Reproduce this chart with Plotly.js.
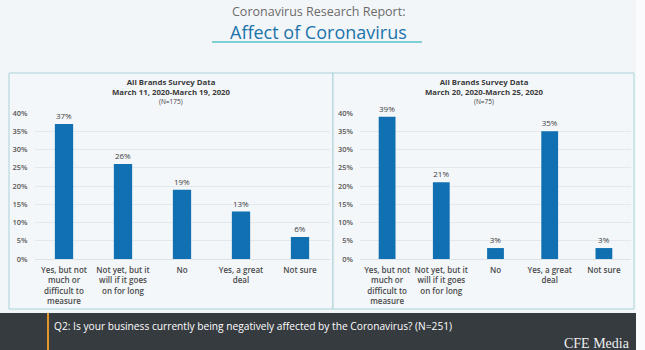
<!DOCTYPE html>
<html>
<head>
<meta charset="utf-8">
<script src="https://cdn.plot.ly/plotly-3.0.1.min.js"></script>
<style>
html,body{margin:0;padding:0;background:#f3f6f9;}
#chart{width:645px;height:350px;}
</style>
</head>
<body>
<div id="chart"></div>
<script>
const categories = [
  "Yes, but not<br>much or<br>difficult to<br>measure",
  "Not yet, but it<br>will if it goes<br>on for long",
  "No",
  "Yes, a great<br>deal",
  "Not sure"
];
const valuesMar11to19 = [37, 26, 19, 13, 6];
const valuesMar20to25 = [39, 21, 3, 35, 3];
const yTickVals = [0, 5, 10, 15, 20, 25, 30, 35, 40];
const yTickText = ["0%", "5%", "10%", "15%", "20%", "25%", "30%", "35%", "40%"];
const panelTitles = [
  "All Brands Survey Data<br>March 11, 2020-March 19, 2020",
  "All Brands Survey Data<br>March 20, 2020-March 25, 2020"
];
const panelN = ["(N=175)", "(N=75)"];
const mainTitle = "Coronavirus Research Report:";
const subTitle = "Affect of Coronavirus";
const footerText = "Q2: Is your business currently being negatively affected by the Coronavirus? (N=251)";
const brand = "CFE Media";

const W = 645, H = 350;
const px = x => x / W;
const py = y => 1 - y / H;

const FONT = "Open Sans, Noto Sans, sans-serif";
const barColor = "#1170b2";

function barTrace(vals, xa, ya) {
  return {
    type: "bar",
    x: categories,
    y: vals,
    xaxis: xa,
    yaxis: ya,
    width: 0.31,
    marker: {color: barColor},
    text: vals.map(v => v + "%"),
    textposition: "outside",
    textfont: {family: FONT, size: 8, color: "#404040"},
    cliponaxis: false,
    hoverinfo: "skip"
  };
}

const data = [
  barTrace(valuesMar11to19, "x", "y"),
  barTrace(valuesMar20to25, "x2", "y2")
];

function xAxis(d) {
  return {
    domain: d,
    range: [-0.5, 4.5],
    showgrid: false,
    zeroline: false,
    showline: false,
    ticks: "",
    tickangle: 0,
    ticklabelstandoff: 5,
    tickfont: {family: FONT, size: 8, color: "#4a4a4a", weight: 600},
    fixedrange: true
  };
}
function yAxis(anchor) {
  return {
    domain: [py(259), py(113)],
    range: [0, 40],
    tickvals: yTickVals,
    ticktext: yTickText,
    showgrid: true,
    gridcolor: "#e4e8ec",
    gridwidth: 1,
    zeroline: true,
    zerolinecolor: "#dde2e6",
    showline: false,
    ticks: "",
    ticklabelstandoff: 6,
    tickfont: {family: FONT, size: 7.5, color: "#595959", weight: 600},
    anchor: anchor,
    fixedrange: true
  };
}

const layout = {
  width: W,
  height: H,
  margin: {l: 0, r: 0, t: 0, b: 0},
  paper_bgcolor: "#f3f6f9",
  plot_bgcolor: "rgba(0,0,0,0)",
  showlegend: false,
  xaxis: Object.assign(xAxis([px(34.5), px(329.5)]), {anchor: "y"}),
  yaxis: yAxis("x"),
  xaxis2: Object.assign(xAxis([px(360), px(631)]), {anchor: "y2"}),
  yaxis2: yAxis("x2"),
  shapes: [
    {type: "rect", xref: "paper", yref: "paper", x0: px(636), x1: 1, y0: 0, y1: 1, fillcolor: "#fafbfc", line: {width: 0}, layer: "below"},
    {type: "rect", xref: "paper", yref: "paper", x0: px(9), x1: px(333), y0: py(309), y1: py(73), fillcolor: "#f4f7fa", line: {color: "#a9d3d9", width: 1}, layer: "below"},
    {type: "rect", xref: "paper", yref: "paper", x0: px(333), x1: px(634), y0: py(309), y1: py(73), fillcolor: "#f4f7fa", line: {color: "#a9d3d9", width: 1}, layer: "below"},
    {type: "line", xref: "paper", yref: "paper", x0: px(212), x1: px(422), y0: py(42), y1: py(42), line: {color: "#7fd0d2", width: 2}},
    {type: "rect", xref: "paper", yref: "paper", x0: 0, x1: px(636), y0: 0, y1: py(313), fillcolor: "#363b40", line: {width: 0}},
    {type: "line", xref: "paper", yref: "paper", x0: px(48), x1: px(48), y0: 0, y1: py(313), line: {color: "#e0962a", width: 2}}
  ],
  annotations: [
    {xref: "paper", yref: "paper", x: px(318), y: py(11.5), text: mainTitle, showarrow: false, xanchor: "center", yanchor: "middle",
     font: {family: FONT, size: 12.5, color: "#6b6b6b"}},
    {xref: "paper", yref: "paper", x: px(318), y: py(32), text: subTitle, showarrow: false, xanchor: "center", yanchor: "middle",
     font: {family: FONT, size: 18, color: "#1b74aa"}},
    {xref: "paper", yref: "paper", x: px(171), y: py(87), text: panelTitles[0], showarrow: false, xanchor: "center", yanchor: "middle",
     font: {family: FONT, size: 7.8, color: "#3a3a3a", weight: 700}},
    {xref: "paper", yref: "paper", x: px(171), y: py(101.5), text: panelN[0], showarrow: false, xanchor: "center", yanchor: "middle",
     font: {family: FONT, size: 6.5, color: "#3a3a3a"}},
    {xref: "paper", yref: "paper", x: px(484), y: py(87), text: panelTitles[1], showarrow: false, xanchor: "center", yanchor: "middle",
     font: {family: FONT, size: 7.8, color: "#3a3a3a", weight: 700}},
    {xref: "paper", yref: "paper", x: px(484), y: py(101.5), text: panelN[1], showarrow: false, xanchor: "center", yanchor: "middle",
     font: {family: FONT, size: 6.5, color: "#3a3a3a"}},
    {xref: "paper", yref: "paper", x: px(52), y: py(326), text: footerText, showarrow: false, xanchor: "left", yanchor: "middle",
     font: {family: FONT, size: 10.2, color: "#ffffff"}},
    {xref: "paper", yref: "paper", x: px(562), y: py(343), text: brand, showarrow: false, xanchor: "left", yanchor: "middle",
     font: {family: "Liberation Serif, DejaVu Serif, serif", size: 14, color: "#f0f0f0"}}
  ]
};

Plotly.newPlot("chart", data, layout, {displayModeBar: false, staticPlot: true});
</script>
</body>
</html>
